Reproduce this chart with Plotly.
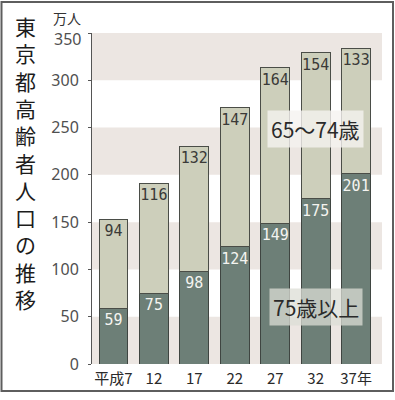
import plotly.graph_objects as go

categories = ["平成7", "12", "17", "22", "27", "32", "37年"]
over75 = [59, 75, 98, 124, 149, 175, 201]
age65_74 = [94, 116, 132, 147, 164, 154, 133]
y_ticks = [0, 50, 100, 150, 200, 250, 300, 350]
y_ticktext = ["0", "50", "100", "150", "200", "250", "300", ""]
top_tick_label = "350"
title_text = "東京都高齢者人口の推移"
stripes = [(0, 50), (100, 150), (200, 250), (300, 350)]

W, H = 395, 400
ML, MR, MT, MB = 92, 13, 33, 30
pw, ph = W - ML - MR, H - MT - MB

xs = list(range(len(categories)))
num_font = "DejaVu Sans Mono"
jp_font = "Noto Sans CJK JP"

fig = go.Figure()
fig.add_trace(go.Bar(
    x=xs, y=over75, text=[str(v) for v in over75],
    marker=dict(color="#6d7f77", line=dict(color="#3f4541", width=1)),
    textposition="inside", insidetextanchor="end", textangle=0,
    textfont=dict(family=num_font, size=15, color="#f4f4f0"),
    width=0.71, hoverinfo="skip",
))
fig.add_trace(go.Bar(
    x=xs, y=age65_74, text=[str(v) for v in age65_74],
    marker=dict(color="#cdcfbb", line=dict(color="#4a4d47", width=1)),
    textposition="inside", insidetextanchor="end", textangle=0,
    textfont=dict(family=num_font, size=15, color="#3a3a38"),
    width=0.71, hoverinfo="skip",
))

shapes = []
for lo, hi in stripes:
    shapes.append(dict(type="rect", xref="paper", yref="y", x0=0, x1=1, y0=lo, y1=hi,
                       fillcolor="#ece6e2", line=dict(width=0), layer="below"))

def px_x(p):
    return (p - ML) / pw

def px_y(p):
    return 1 - (p - MT) / ph

shapes.append(dict(type="rect", xref="paper", yref="paper",
                   x0=px_x(1.5), x1=px_x(393), y0=px_y(1.5), y1=px_y(397.5),
                   line=dict(color="#5e5e5e", width=2), fillcolor="rgba(0,0,0,0)"))

annotations = []
annotations.append(dict(text="<br>".join(list(title_text)), xref="paper", yref="paper",
                        x=px_x(25), y=px_y(9), showarrow=False, xanchor="center", yanchor="top",
                        align="center",
                        font=dict(family=jp_font, size=21, color="#1c1c1c")))
annotations.append(dict(text="万人", xref="paper", yref="paper", x=px_x(67), y=px_y(18),
                        showarrow=False, xanchor="center", yanchor="middle",
                        font=dict(family=jp_font, size=14, color="#333333")))
annotations.append(dict(text=top_tick_label, xref="paper", yref="paper", x=px_x(83), y=px_y(39),
                        showarrow=False, xanchor="right", yanchor="middle",
                        font=dict(family="Noto Sans", size=16, color="#505050")))
annotations.append(dict(text="65～74歳", x=5, y=248, xref="x", yref="y", showarrow=False,
                        font=dict(family=jp_font, size=21, color="#2a2a2a"),
                        bgcolor="rgba(245,243,240,0.8)", borderpad=3))
annotations.append(dict(text="75歳以上", x=5, y=60, xref="x", yref="y", showarrow=False,
                        font=dict(family=jp_font, size=21, color="#2a2a2a"),
                        bgcolor="rgba(220,222,214,0.75)", borderpad=3))

fig.update_layout(
    width=W, height=H, barmode="stack",
    margin=dict(l=ML, r=MR, t=MT, b=MB),
    paper_bgcolor="white", plot_bgcolor="white",
    showlegend=False, shapes=shapes, annotations=annotations,
    uniformtext=dict(minsize=15, mode="show"),
    xaxis=dict(range=[-0.53, 6.64], tickmode="array", tickvals=xs, ticktext=categories,
               showgrid=False, zeroline=False, showline=False, ticks="",
               ticklabelstandoff=4,
               tickfont=dict(family=jp_font, size=15, color="#2a2a2a"), fixedrange=True),
    yaxis=dict(range=[0, 350], tickmode="array", tickvals=y_ticks, ticktext=y_ticktext,
               showgrid=False, zeroline=False, showline=True, linecolor="#555555", linewidth=1,
               ticks="outside", ticklen=3, tickcolor="#555555", ticklabelstandoff=6,
               tickfont=dict(family="Noto Sans", size=16, color="#505050"), fixedrange=True),
)

fig.write_html("out.html", config={"displayModeBar": False},
               post_script="document.body.style.margin='0';")
